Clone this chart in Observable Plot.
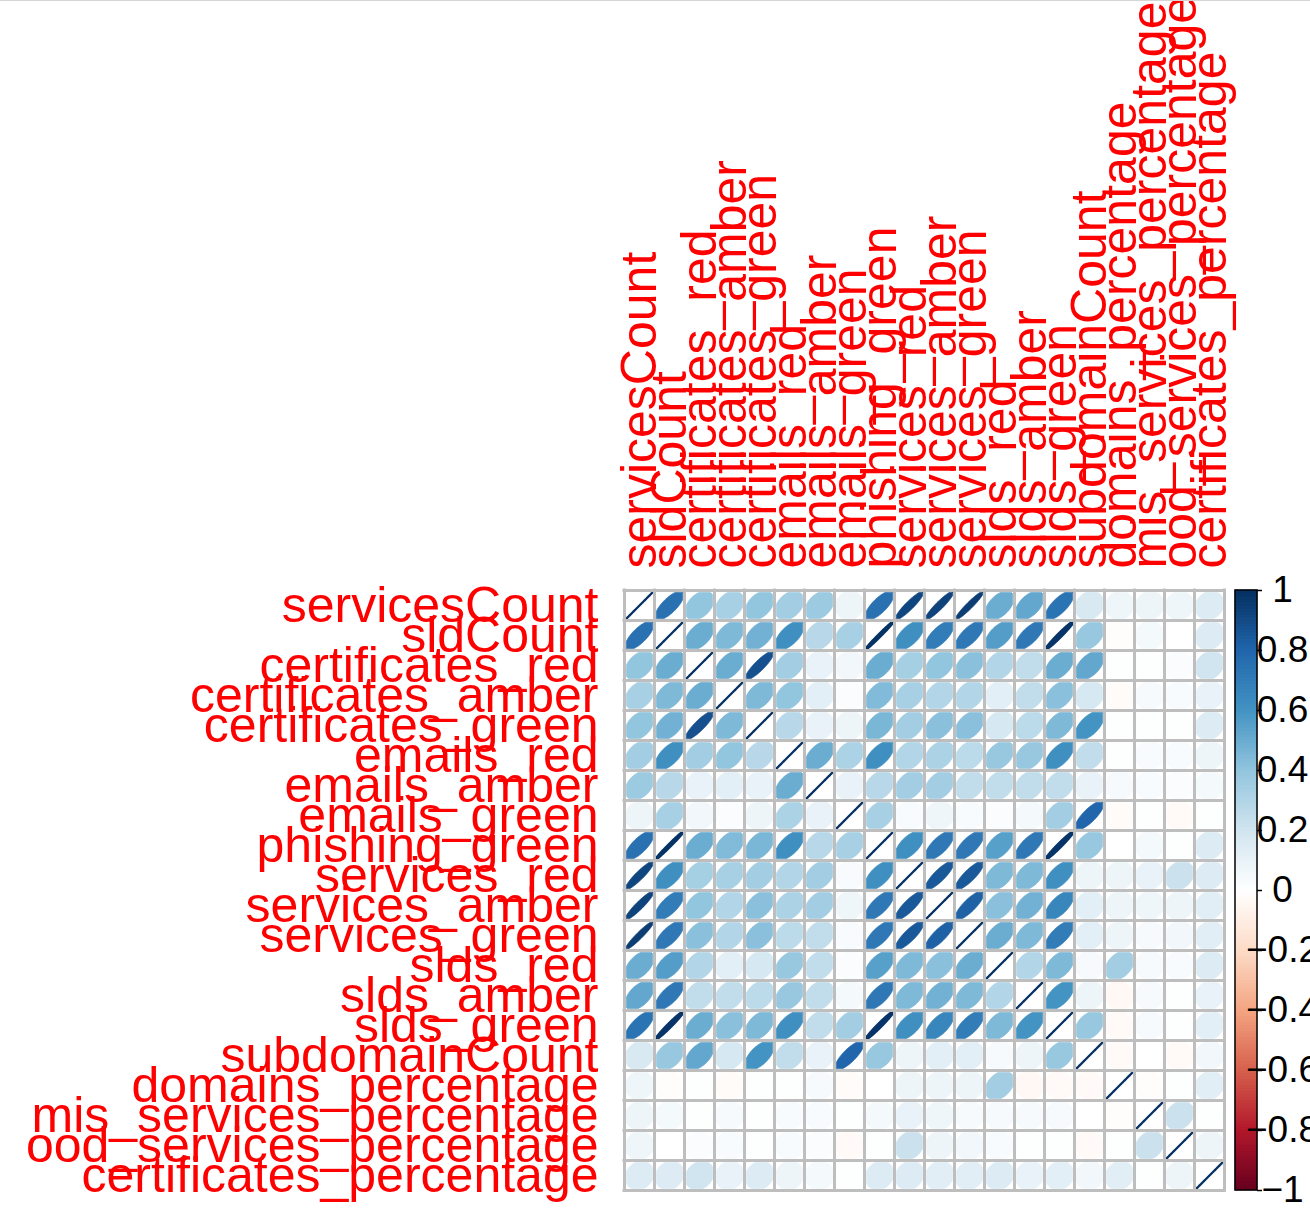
<!DOCTYPE html>
<html><head><meta charset="utf-8">
<script src="https://cdn.jsdelivr.net/npm/d3@7"></script>
<script src="https://cdn.jsdelivr.net/npm/@observablehq/plot@0.6"></script>
<style>
body{margin:0;background:#fff;font-family:"Liberation Sans",Arial,sans-serif}
#topline{position:fixed;left:0;top:0;width:1310px;height:1px;background:#d6d6d6}
</style>
</head><body><div id="chart"></div><div id="topline"></div>
<script>
const variables = ["servicesCount","sldCount","certificates_red","certificates_amber","certificates_green","emails_red","emails_amber","emails_green","phishing_green","services_red","services_amber","services_green","slds_red","slds_amber","slds_green","subdomainCount","domains_percentage","mis_services_percentage","ood_services_percentage","certificates_percentage"];

const corr = [
[1, 0.75, 0.4, 0.33, 0.4, 0.35, 0.37, 0.08, 0.75, 0.92, 0.93, 0.95, 0.5, 0.52, 0.74, 0.17, 0.07, 0.08, 0.07, 0.15],
[0.75, 1, 0.5, 0.45, 0.48, 0.62, 0.28, 0.33, 0.99, 0.62, 0.7, 0.72, 0.56, 0.72, 0.98, 0.38, -0.01, 0.05, 0.0, 0.15],
[0.4, 0.5, 1, 0.5, 0.88, 0.35, 0.1, 0.06, 0.5, 0.34, 0.4, 0.42, 0.3, 0.25, 0.5, 0.52, 0.01, 0.01, 0.02, 0.2],
[0.33, 0.45, 0.5, 1, 0.45, 0.4, 0.12, 0.02, 0.44, 0.33, 0.3, 0.3, 0.12, 0.25, 0.42, 0.18, -0.02, 0.04, 0.03, 0.1],
[0.4, 0.48, 0.88, 0.45, 1, 0.28, 0.1, 0.08, 0.46, 0.35, 0.42, 0.42, 0.18, 0.27, 0.45, 0.6, 0.01, 0.01, 0.01, 0.15],
[0.35, 0.62, 0.35, 0.4, 0.28, 1, 0.5, 0.32, 0.62, 0.3, 0.32, 0.27, 0.38, 0.38, 0.62, 0.25, 0.01, 0.03, 0.03, 0.08],
[0.37, 0.28, 0.1, 0.12, 0.1, 0.5, 1, 0.1, 0.28, 0.35, 0.35, 0.25, 0.25, 0.25, 0.25, 0.1, 0.04, 0.03, 0.02, 0.05],
[0.08, 0.33, 0.06, 0.02, 0.08, 0.32, 0.1, 1, 0.33, 0.03, 0.07, 0.03, 0.02, 0.05, 0.35, 0.8, -0.02, 0.01, -0.03, 0.01],
[0.75, 0.99, 0.5, 0.44, 0.46, 0.62, 0.28, 0.33, 1, 0.62, 0.72, 0.72, 0.55, 0.72, 0.98, 0.38, 0.0, 0.05, 0.01, 0.15],
[0.92, 0.62, 0.34, 0.33, 0.35, 0.3, 0.35, 0.03, 0.62, 1, 0.85, 0.85, 0.45, 0.45, 0.62, 0.08, 0.08, 0.1, 0.22, 0.15],
[0.93, 0.7, 0.4, 0.3, 0.42, 0.32, 0.35, 0.07, 0.72, 0.85, 1, 0.82, 0.42, 0.48, 0.66, 0.12, 0.08, 0.07, 0.08, 0.13],
[0.95, 0.72, 0.42, 0.3, 0.42, 0.27, 0.25, 0.03, 0.72, 0.85, 0.82, 1, 0.5, 0.45, 0.7, 0.12, 0.08, 0.04, 0.06, 0.13],
[0.5, 0.56, 0.3, 0.12, 0.18, 0.38, 0.25, 0.02, 0.55, 0.45, 0.42, 0.5, 1, 0.3, 0.45, 0.04, 0.35, 0.04, 0.03, 0.15],
[0.52, 0.72, 0.25, 0.25, 0.27, 0.38, 0.25, 0.05, 0.72, 0.45, 0.48, 0.45, 0.3, 1, 0.6, 0.08, -0.04, 0.04, 0.01, 0.1],
[0.74, 0.98, 0.5, 0.42, 0.45, 0.62, 0.25, 0.35, 0.98, 0.62, 0.66, 0.7, 0.45, 0.6, 1, 0.38, -0.03, 0.04, 0.01, 0.12],
[0.17, 0.38, 0.52, 0.18, 0.6, 0.25, 0.1, 0.8, 0.38, 0.08, 0.12, 0.12, 0.04, 0.08, 0.38, 1, -0.03, 0.0, -0.03, 0.06],
[0.07, -0.01, 0.01, -0.02, 0.01, 0.01, 0.04, -0.02, 0.0, 0.08, 0.08, 0.08, 0.35, -0.04, -0.03, -0.03, 1, -0.01, 0.01, 0.13],
[0.08, 0.05, 0.01, 0.04, 0.01, 0.03, 0.03, 0.01, 0.05, 0.1, 0.07, 0.04, 0.04, 0.04, 0.04, 0.0, -0.01, 1, 0.22, 0.01],
[0.07, 0.0, 0.02, 0.03, 0.01, 0.03, 0.02, -0.03, 0.01, 0.22, 0.08, 0.06, 0.03, 0.01, 0.01, -0.03, 0.01, 0.22, 1, 0.08],
[0.15, 0.15, 0.2, 0.1, 0.15, 0.08, 0.05, 0.01, 0.15, 0.15, 0.13, 0.13, 0.15, 0.1, 0.12, 0.06, 0.13, 0.01, 0.08, 1]
];

const legendTicks = [1, 0.8, 0.6, 0.4, 0.2, 0, -0.2, -0.4, -0.6, -0.8, -1];
const legendLabels = ["1", "0.8", "0.6", "0.4", "0.2", "0", "\u22120.2", "\u22120.4", "\u22120.6", "\u22120.8", "\u22121"];
const colorDomain = [-1, -0.8, -0.6, -0.4, -0.2, 0, 0.2, 0.4, 0.6, 0.8, 1];
const colorRange = ["#67001F","#B2182B","#D6604D","#F4A582","#FDDBC7","#FFFFFF","#D1E5F0","#92C5DE","#4393C3","#2166AC","#053061"];

// derived geometry: ellipse per cell, clipped to the cell's inner square
const n = variables.length;
const cells = [];
corr.forEach((row, i) => row.forEach((r, j) => cells.push({row: i + 1, col: j + 1, r, id: i * n + j})));
const NP = 120, S = 0.96, H = 0.435;
const clamp = v => Math.max(-H, Math.min(H, v));
const ellipse = c => {
  const a = Math.acos(Math.max(-1, Math.min(1, c.r)));
  return d3.range(NP).map(t => {
    const k = t / NP * 2 * Math.PI;
    return {id: c.id, r: c.r,
      x: c.col + clamp(S * Math.cos(k + a / 2) / 2),
      y: c.row - clamp(S * Math.cos(k - a / 2) / 2)};
  });
};
const ellipsePts = cells.flatMap(ellipse);
const strongPts = cells.filter(c => Math.abs(c.r) >= 0.97).flatMap(ellipse);
const px = p => 0.5 + (p - 624) / 30;       // pixel -> x data
const vy = v => (n + 1) / 2 - (n / 2) * v;   // legend value -> y data
const steps = d3.range(200).map(i => ({v0: -1 + i * 0.01, v1: -1 + (i + 1) * 0.01}));
const gridPos = d3.range(0.5, n + 1, 1);

const chart = Plot.plot({
  width: 1310, height: 1211,
  margin: 0,
  style: {fontFamily: "Liberation Sans, Arial, sans-serif", background: "white"},
  x: {domain: [0.5, n + 0.5], range: [624, 1224], axis: null},
  y: {domain: [0.5, n + 0.5], range: [590, 1190], axis: null},
  color: {type: "linear", domain: colorDomain, range: colorRange, interpolate: "rgb"},
  marks: [
    Plot.line(ellipsePts, {x: "x", y: "y", z: "id", fill: "r", stroke: "r", strokeWidth: 0.8, curve: "linear-closed"}),
    Plot.line(strongPts, {x: "x", y: "y", z: "id", stroke: "r", strokeWidth: 2.3, curve: "linear-closed"}),
    Plot.ruleX(gridPos, {x: d => d, y1: 0.45, y2: n + 0.55, stroke: "#BEBEBE", strokeWidth: 3}),
    Plot.ruleY(gridPos, {y: d => d, x1: 0.45, x2: n + 0.55, stroke: "#BEBEBE", strokeWidth: 3}),
    // row labels
    Plot.text(variables, {x: 0.5, y: (d, i) => i + 1, text: d => d, dx: -26, textAnchor: "end", fill: "red", fontSize: 50}),
    // column labels
    Plot.text(variables, {x: (d, i) => i + 1, y: 0.5, text: d => d, dy: -22, rotate: -90, textAnchor: "start", fill: "red", fontSize: 50}),
    // color legend
    Plot.rect(steps, {x1: px(1235), x2: px(1257), y1: d => vy(d.v0), y2: d => vy(d.v1), fill: d => (d.v0 + d.v1) / 2, stroke: d => (d.v0 + d.v1) / 2, strokeWidth: 0.6}),
    Plot.rect([0], {x1: px(1235), x2: px(1257), y1: vy(-1), y2: vy(1), fill: "none", stroke: "black", strokeWidth: 1.5}),
    Plot.ruleY(legendTicks, {y: d => vy(d), x1: px(1257), x2: px(1262), stroke: "black", strokeWidth: 1.5}),
    Plot.text(legendTicks, {x: px(1282), y: d => vy(d), text: (d, i) => legendLabels[i], fill: "black", fontSize: 37})
  ]
});
document.getElementById("chart").appendChild(chart);
</script>
</body></html>
